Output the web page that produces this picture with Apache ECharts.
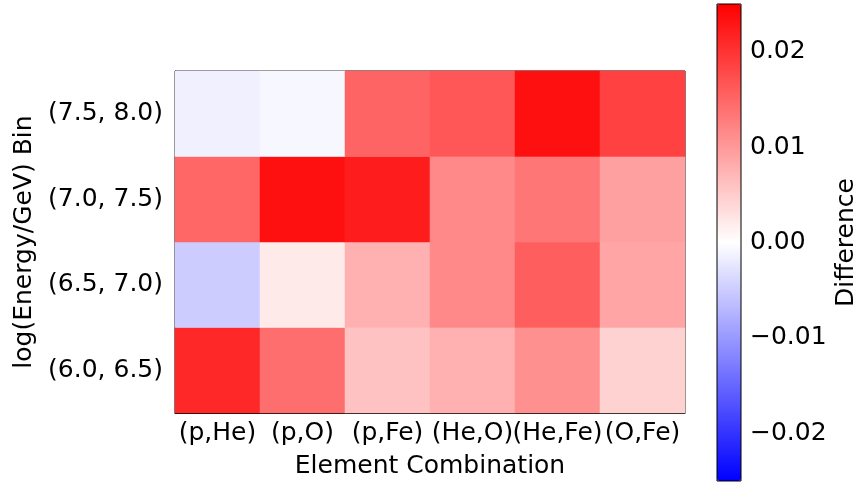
<!DOCTYPE html>
<html><head><meta charset="utf-8">
<script src="https://cdn.jsdelivr.net/npm/echarts@6/dist/echarts.min.js"></script>
<style>html,body{margin:0;padding:0;background:#fff}#c{width:865px;height:485px}</style>
</head><body><div id="c"></div>
<script>
const combos = ['(p,He)', '(p,O)', '(p,Fe)', '(He,O)', '(He,Fe)', '(O,Fe)'];
const bins = ['(6.0, 6.5)', '(6.5, 7.0)', '(7.0, 7.5)', '(7.5, 8.0)'];
// values per energy bin, one entry per combination
const row60 = [0.0211, 0.0142, 0.0060, 0.0077, 0.0109, 0.0044];
const row65 = [-0.0050, 0.0021, 0.0077, 0.0117, 0.0158, 0.0088];
const row70 = [0.0150, 0.0234, 0.0223, 0.0117, 0.0134, 0.0093];
const row75 = [-0.0015, -0.0008, 0.0152, 0.0165, 0.0234, 0.0186];
const cbTicks = [-0.02, -0.01, 0, 0.01, 0.02];
const vMin = -0.025, vMax = 0.025;

const rows = [row60, row65, row70, row75];
const data = [];
rows.forEach((r, yi) => r.forEach((v, xi) => data.push([xi, yi, v])));

const font = 'DejaVu Sans';
const fs = 25;
const chart = echarts.init(document.getElementById('c'));
chart.setOption({
  animation: false,
  textStyle: { fontFamily: font },
  grid: [
    { left: 175, top: 71, width: 510, height: 342, show: true, borderColor: '#000', borderWidth: 1, backgroundColor: 'transparent' },
    { left: 717, top: 4, width: 24, height: 477, show: true, borderColor: '#000', borderWidth: 1, backgroundColor: 'transparent', z: 10 }
  ],
  xAxis: [
    { type: 'category', data: combos, gridIndex: 0,
      axisLine: { lineStyle: { color: '#000' } },
      axisTick: { alignWithLabel: true, length: 5, lineStyle: { color: '#000' } },
      axisLabel: { color: '#000', fontSize: fs, margin: 8, fontFamily: font, interval: 0 },
      name: 'Element Combination', nameLocation: 'middle', nameGap: 41,
      nameTextStyle: { color: '#000', fontSize: fs, fontFamily: font },
      splitArea: { show: false }, splitLine: { show: false } },
    { type: 'value', gridIndex: 1, show: false, min: 0, max: 1 }
  ],
  yAxis: [
    { type: 'category', data: bins, gridIndex: 0,
      axisLine: { lineStyle: { color: '#000' } },
      axisTick: { alignWithLabel: true, length: 5, lineStyle: { color: '#000' } },
      axisLabel: { color: '#000', fontSize: fs, margin: 12, fontFamily: font },
      name: 'log(Energy/GeV) Bin', nameLocation: 'middle', nameGap: 130, nameRotate: 90,
      nameTextStyle: { color: '#000', fontSize: fs, fontFamily: font },
      splitArea: { show: false }, splitLine: { show: false } },
    { type: 'value', gridIndex: 1, position: 'right', min: vMin, max: vMax,
      axisLine: { show: false },
      axisTick: { show: true, length: 5, lineStyle: { color: '#000' }, customValues: cbTicks },
      axisLabel: { color: '#000', fontSize: fs, margin: 9, fontFamily: font, customValues: cbTicks,
        formatter: v => (v < 0 ? '\u2212' : '') + Math.abs(v).toFixed(2) },
      splitLine: { show: false },
      name: 'Difference', nameLocation: 'middle', nameGap: 93, nameRotate: 90,
      nameTextStyle: { color: '#000', fontSize: fs, fontFamily: font } }
  ],
  visualMap: {
    type: 'continuous', min: vMin, max: vMax, seriesIndex: 0,
    calculable: false, show: true, orient: 'vertical',
    left: 717, top: 4, itemWidth: 24, itemHeight: 477, padding: 0,
    text: null, showLabel: false,
    inRange: { color: ['#0000ff', '#ffffff', '#ff0000'] }
  },
  series: [
    { type: 'heatmap', data: data, xAxisIndex: 0, yAxisIndex: 0,
      itemStyle: { borderWidth: 0 }, emphasis: { disabled: true } }
  ]
});
</script></body></html>
